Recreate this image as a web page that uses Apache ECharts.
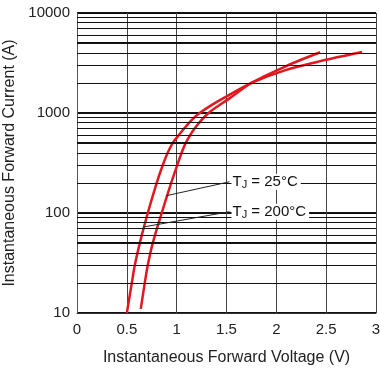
<!DOCTYPE html>
<html><head><meta charset="utf-8">
<script src="https://cdn.jsdelivr.net/npm/echarts@6/dist/echarts.min.js"></script>
<style>html,body{margin:0;padding:0;background:#fff}#c{width:380px;height:372px}</style>
</head><body><div id="c"></div>
<script>
// Tj = 200°C (left curve at low current)
const voltage200 = [0.50, 0.55, 0.58, 0.63, 0.71, 0.80, 0.86, 0.91, 0.96, 1.02, 1.075, 1.15, 1.23, 1.35, 1.52, 1.75, 2.10, 2.44, 2.86];
const current200 = [10, 20, 30, 50, 100, 200, 300, 400, 500, 600, 700, 850, 1000, 1200, 1500, 2000, 2700, 3300, 4070];
// Tj = 25°C
const voltage25 = [0.64, 0.68, 0.71, 0.76, 0.85, 0.945, 1.005, 1.05, 1.09, 1.18, 1.32, 1.53, 1.75, 2.10, 2.44];
const current25 = [11, 20, 30, 50, 100, 200, 300, 400, 500, 700, 1000, 1400, 2000, 2950, 4050];
// horizontal minor grid levels
const minorCurrents = [20, 30, 40, 50, 60, 70, 80, 90, 200, 300, 400, 500, 600, 700, 800, 900,
  2000, 3000, 4000, 5000, 6000, 7000, 8000, 9000];
const xAxisName = 'Instantaneous Forward Voltage (V)';
const yAxisName = 'Instantaneous Forward Current (A)';
const label25 = ['T', 'J', ' = 25°C'];
const label200 = ['T', 'J', ' = 200°C'];
// annotation leader lines: [curve point, label point]
const leader25 = [[0.897, 149], [1.53, 205]];
const leader200 = [[0.665, 72.4], [1.53, 103]];

const FONT = 'Liberation Sans, Arial, sans-serif';
const pairs = (xs, ys) => xs.map((x, i) => [x, ys[i]]);
const rich = {
  a: { fontSize: 15, fontFamily: FONT, color: '#111', lineHeight: 16 },
  s: { fontSize: 11, fontFamily: FONT, color: '#111', lineHeight: 16, padding: [7, 0, 0, 0] }
};
const leaderSeries = (pts, txt) => ({
  type: 'line', data: pts, symbol: 'none', silent: true, z: 6,
  lineStyle: { color: '#222', width: 1 },
  endLabel: {
    show: true, distance: 2, backgroundColor: '#fff', padding: [0, 3, 0, 1],
    formatter: () => `{a|${txt[0]}}{s|${txt[1]}}{a|${txt[2]}}`,
    rich
  }
});

const chart = echarts.init(document.getElementById('c'), null, { renderer: 'canvas' });
chart.setOption({
  animation: false,
  backgroundColor: '#fff',
  grid: { left: 77, right: 4, top: 13, bottom: 59, containLabel: false, outerBoundsMode: 'none' },
  xAxis: {
    type: 'value', min: 0, max: 3, interval: 0.5,
    name: xAxisName, nameLocation: 'middle', nameGap: 37,
    nameTextStyle: { fontSize: 16, fontFamily: FONT, color: '#222' },
    axisLine: { show: true, lineStyle: { color: '#333', width: 1 } },
    axisTick: { show: false },
    axisLabel: { fontSize: 15, fontFamily: FONT, color: '#222', margin: 9 },
    splitLine: { show: true, lineStyle: { color: '#444', width: 1 } }
  },
  yAxis: {
    type: 'log', logBase: 10, min: 10, max: 10000,
    name: yAxisName, nameLocation: 'middle', nameGap: 53, nameRotate: 90,
    nameTextStyle: { fontSize: 16, fontFamily: FONT, color: '#222' },
    axisLine: { show: true, lineStyle: { color: '#555', width: 1 } },
    axisTick: { show: false },
    axisLabel: { fontSize: 15, fontFamily: FONT, color: '#222', margin: 7,
      formatter: v => String(Math.round(v)) },
    splitLine: { show: true, lineStyle: { color: '#111', width: 2 } }
  },
  series: [
    {
      type: 'line', data: [], silent: true, z: 1,
      markLine: {
        silent: true, symbol: 'none', label: { show: false },
        lineStyle: { type: 'solid' },
        data: minorCurrents.map(v => ({ yAxis: v, lineStyle: {
          color: '#111', width: (String(v)[0] === '5') ? 2 : 1.2, type: 'solid' } }))
      }
    },
    {
      name: '200', type: 'line', data: pairs(voltage200, current200), smooth: 0.3,
      symbol: 'none', z: 4, lineStyle: { color: '#e3171f', width: 2.5 }
    },
    {
      name: '25', type: 'line', data: pairs(voltage25, current25), smooth: 0.3,
      symbol: 'none', z: 4, lineStyle: { color: '#e3171f', width: 2.5 }
    },
    leaderSeries(leader25, label25),
    leaderSeries(leader200, label200)
  ]
});
</script></body></html>
